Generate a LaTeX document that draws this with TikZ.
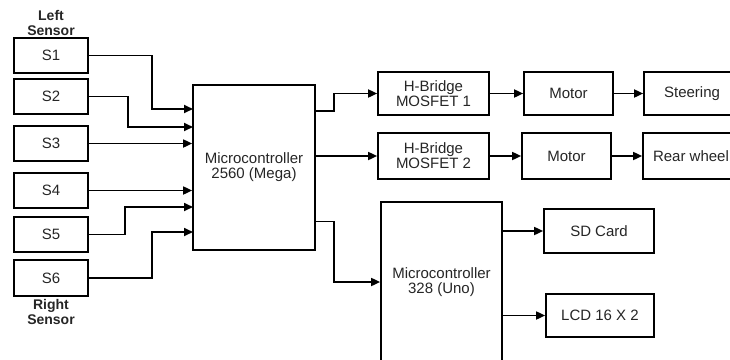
\documentclass[tikz,border=0pt]{standalone}
\usepackage{fontspec}
\setmainfont{Liberation Sans}
\usetikzlibrary{arrows.meta,calc}
\begin{document}
\begin{tikzpicture}[x=1pt,y=-1pt,
  blk/.style={draw=black,line width=1.7pt,fill=white,inner sep=0pt,align=center,
    font=\fontsize{15}{15}\selectfont,text=black!85},
  arr/.style={line width=1.7pt,-{Triangle[length=9pt,width=8pt]}},
  lbl/.style={align=center,font=\fontsize{14}{15}\selectfont\bfseries,text=black!85}]
\useasboundingbox (0,0) rectangle (730,359);
\clip (0,0) rectangle (730,359);
\fill[white] (0,0) rectangle (730,359);
% sensors
\node[blk,minimum width=74pt,minimum height=35pt] (s1) at (51,55.5) {S1};
\node[blk,minimum width=74pt,minimum height=35pt] (s2) at (51,96.5) {S2};
\node[blk,minimum width=74pt,minimum height=35pt] (s3) at (51,143.5) {S3};
\node[blk,minimum width=74pt,minimum height=35pt] (s4) at (51,190.5) {S4};
\node[blk,minimum width=74pt,minimum height=35pt] (s5) at (51,234.5) {S5};
\node[blk,minimum width=74pt,minimum height=36pt] (s6) at (51,278) {S6};
\node[lbl] (lt) at (51,23) {Left\\Sensor};
\node[lbl] (rt) at (51,312) {Right\\Sensor};
% mega
\node[blk,minimum width=122pt,minimum height=165pt] (mega) at (254,167.5) {Microcontroller\\2560 (Mega)};
\coordinate (m1) at (193,109);
\coordinate (m2) at (193,127);
\coordinate (m5) at (193,207);
\coordinate (m6) at (193,232);
\draw[arr] (s1.east) -- ++(63,0) |- (m1);
\draw[arr] (s2.east) -- ++(39,0) |- (m2);
\draw[arr] (s3.east) -- (s3.east -| mega.west);
\draw[arr] (s4.east) -- (s4.east -| mega.west);
\draw[arr] (s5.east) -- ++(36,0) |- (m5);
\draw[arr] (s6.east) -- ++(63,0) |- (m6);
% h-bridges row
\node[blk,minimum width=111pt,minimum height=43pt] (hb1) at (433.5,93.5) {H-Bridge\\MOSFET 1};
\node[blk,minimum width=111pt,minimum height=46pt] (hb2) at (433.5,156) {H-Bridge\\MOSFET 2};
\node[blk,minimum width=89pt,minimum height=43pt] (mo1) at (568.5,93.5) {Motor};
\node[blk,minimum width=89pt,minimum height=46pt] (mo2) at (566.5,156) {Motor};
\node[blk,minimum width=96pt,minimum height=43pt] (st) at (692,93.5) {Steering};
\node[blk,minimum width=96pt,minimum height=46pt] (rw) at (691,156) {Rear wheel};
\coordinate (o1) at (315,111);
\coordinate (o3) at (315,221.5);
\draw[arr] (o1) -- ++(19,0) |- (hb1.west);
\draw[arr] (mega.east |- hb2.west) -- (hb2.west);
\draw[arr] (hb1.east) -- (mo1.west);
\draw[arr] (hb2.east) -- (mo2.west);
\draw[arr] (mo1.east) -- (st.west);
\draw[arr] (mo2.east) -- (rw.west);
% uno
\node[blk,minimum width=121pt,minimum height=160pt] (uno) at (441.5,282) {Microcontroller\\328 (Uno)};
\draw[arr] (o3) -- ++(19,0) |- (uno.west);
\node[blk,minimum width=110pt,minimum height=44pt] (sd) at (599,231) {SD Card};
\node[blk,minimum width=108pt,minimum height=43pt] (lcd) at (600,315.5) {LCD 16 X 2};
\draw[arr] (uno.east |- sd.west) -- (sd.west);
\draw[arr] (uno.east |- lcd.west) -- (lcd.west);
\end{tikzpicture}
\end{document}
